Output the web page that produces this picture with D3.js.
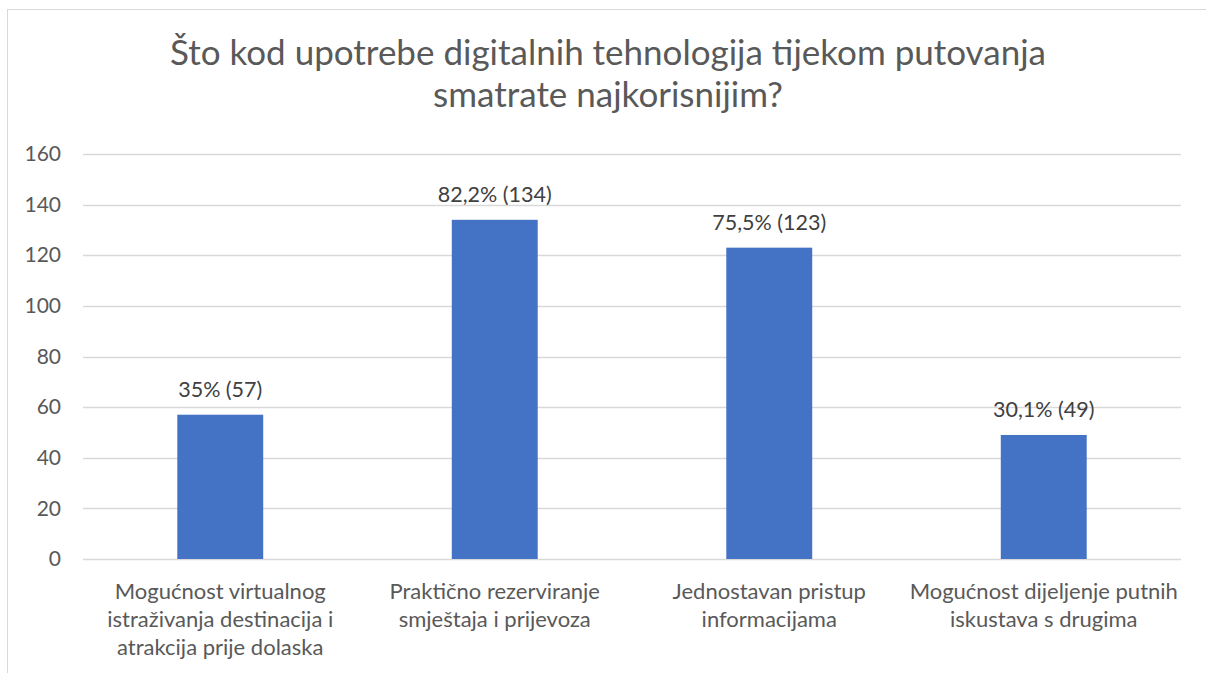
<!DOCTYPE html>
<html>
<head>
<meta charset="utf-8">
<script src="https://cdnjs.cloudflare.com/ajax/libs/d3/7.8.5/d3.min.js"></script>
<style>
  body { margin: 0; background: #fff; }
  text { font-family: Lato, "Open Sans", sans-serif; }
</style>
</head>
<body>
<script>
//panel size
var w = 1206, h = 673;

//chart data
var categories = [
    ["Mogućnost virtualnog", "istraživanja destinacija i", "atrakcija prije dolaska"],
    ["Praktično rezerviranje", "smještaja i prijevoza"],
    ["Jednostavan pristup", "informacijama"],
    ["Mogućnost dijeljenje putnih", "iskustava s drugima"]
];
var counts = [57, 134, 123, 49];
var percents = ["35%", "82,2%", "75,5%", "30,1%"];
var yTicks = [0, 20, 40, 60, 80, 100, 120, 140, 160];
var titleLines = ["Što kod upotrebe digitalnih tehnologija tijekom putovanja", "smatrate najkorisnijim?"];

var svg = d3.select("body")
    .append("svg")
    .attr("width", w)
    .attr("height", h)
    .attr("class", "container");

//outer chart frame
svg.append("rect")
    .attr("x", 7.5)
    .attr("y", 9.5)
    .attr("width", 1210)
    .attr("height", 700)
    .style("fill", "#fff")
    .style("stroke", "#d9d9d9");

//title
svg.selectAll(".title")
    .data(titleLines)
    .enter()
    .append("text")
    .attr("class", "title")
    .attr("x", 608)
    .attr("y", function(d, i){ return 65 + i * 42; })
    .attr("text-anchor", "middle")
    .style("font-size", "35px")
    .style("fill", "#595959")
    .text(function(d){ return d; });

//scales
var x = d3.scaleBand()
    .domain(d3.range(categories.length))
    .range([83, 1181])
    .paddingInner(0.687)
    .paddingOuter(0.3435);

var y = d3.scaleLinear()
    .domain([0, 160])
    .range([559, 154]);

//gridlines
svg.selectAll(".grid")
    .data(yTicks)
    .enter()
    .append("line")
    .attr("class", "grid")
    .attr("x1", 83)
    .attr("x2", 1181)
    .attr("y1", function(d){ return Math.round(y(d)) + 0.5; })
    .attr("y2", function(d){ return Math.round(y(d)) + 0.5; })
    .style("stroke", "#d9d9d9")
    .style("stroke-width", 1.3);

//y axis labels
var yAxis = d3.axisLeft(y).tickValues(yTicks).tickSize(0).tickPadding(0);
var axis = svg.append("g")
    .attr("class", "axis")
    .attr("transform", "translate(61,0)")
    .call(yAxis);
axis.select(".domain").remove();
axis.selectAll("text")
    .style("font-family", "Lato, 'Open Sans', sans-serif")
    .style("font-size", "21px")
    .style("fill", "#595959");

//bars
svg.selectAll(".bars")
    .data(counts)
    .enter()
    .append("rect")
    .attr("class", "bars")
    .attr("x", function(d, i){ return x(i); })
    .attr("width", x.bandwidth())
    .attr("y", function(d){ return y(d); })
    .attr("height", function(d){ return y(0) - y(d); })
    .style("fill", "#4472c4");

//data labels
svg.selectAll(".labels")
    .data(counts)
    .enter()
    .append("text")
    .attr("class", "labels")
    .attr("x", function(d, i){ return x(i) + x.bandwidth() / 2; })
    .attr("y", function(d){ return y(d) - 18; })
    .attr("text-anchor", "middle")
    .style("font-size", "21.5px")
    .style("fill", "#404040")
    .text(function(d, i){ return percents[i] + " (" + d + ")"; });

//category labels
var cats = svg.selectAll(".cats")
    .data(categories)
    .enter()
    .append("text")
    .attr("class", "cats")
    .attr("text-anchor", "middle")
    .attr("y", 599)
    .style("font-size", "22px")
    .style("fill", "#595959");

cats.selectAll("tspan")
    .data(function(d, i){ return d.map(function(t){ return {t: t, i: i}; }); })
    .enter()
    .append("tspan")
    .attr("x", function(d){ return x(d.i) + x.bandwidth() / 2; })
    .attr("dy", function(d, j){ return j === 0 ? 0 : 28; })
    .text(function(d){ return d.t; });
</script>
</body>
</html>
